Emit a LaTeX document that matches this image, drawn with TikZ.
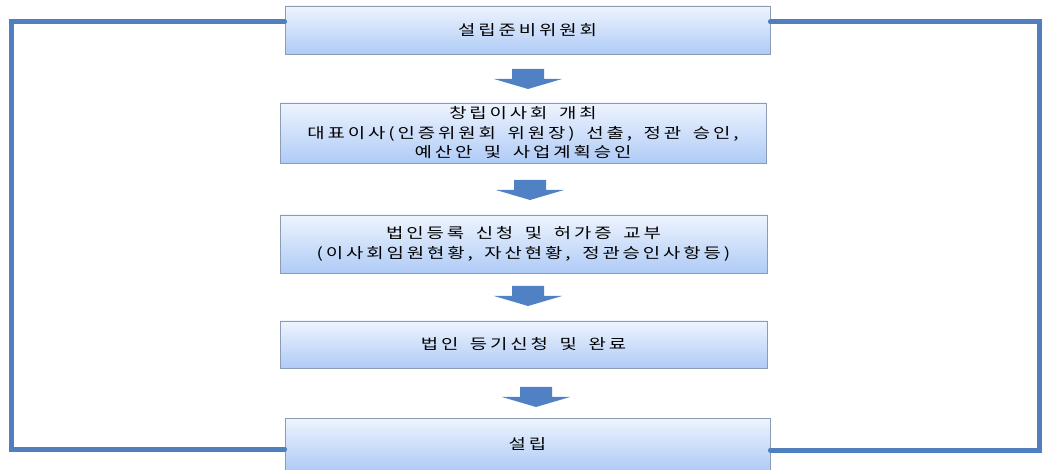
\documentclass[tikz,border=0pt]{standalone}
\usepackage{fontspec}
\newfontfamily\kr[LetterSpace=20,FakeStretch=1.3]{Noto Sans CJK KR}
\newcommand{\krboxfont}{\kr\fontsize{14.5}{19.5}\selectfont\spaceskip=0.8em plus 0pt minus 0pt\relax}
\usetikzlibrary{calc}
\definecolor{boxtop}{HTML}{EEF4FE}
\definecolor{boxbot}{HTML}{AFCBF6}
\definecolor{boxline}{HTML}{8C9CB4}
\definecolor{linkc}{HTML}{4F7FBD}
\definecolor{arrc}{HTML}{4F81C4}
\tikzset{
  stepbox/.style={draw=boxline, line width=0.8pt, top color=boxtop, bottom color=boxbot,
    inner sep=0pt, align=center, font=\krboxfont, text=black},
  link/.style={draw=linkc, line width=5pt},
  blockarrow/.style={fill=arrc, draw=none}
}
\newcommand{\downarrowblock}[1]{%
  \fill[blockarrow] ($(#1)+(-16,-10)$) -- ($(#1)+(16,-10)$) -- ($(#1)+(16,0)$) -- ($(#1)+(34,0)$)
    -- ($(#1)+(0,10)$) -- ($(#1)+(-34,0)$) -- ($(#1)+(-16,0)$) -- cycle;}
\begin{document}
\begin{tikzpicture}[x=1pt,y=-1pt]
\useasboundingbox (0,0) rectangle (1042,470);
\node[stepbox, minimum width=485pt, minimum height=48pt] (b1) at (527.5,30) {설립준비위원회};
\node[stepbox, minimum width=486pt, minimum height=60pt] (b2) at (523,133) {창립이사회 개최\\대표이사(인증위원회 위원장) 선출, 정관 승인,\\예산안 및 사업계획승인};
\node[stepbox, minimum width=487pt, minimum height=58pt] (b3) at (523.5,244) {법인등록 신청 및 허가증 교부\\(이사회임원현황, 자산현황, 정관승인사항등)};
\node[stepbox, minimum width=487pt, minimum height=47pt] (b4) at (523.5,344.5) {법인 등기신청 및 완료};
\node[stepbox, minimum width=485pt, minimum height=52pt] (b5) at (527.5,444) {설립};
% block arrows
\coordinate (a1) at (528,79);
\coordinate (a2) at (530,190);
\coordinate (a3) at (528,296);
\coordinate (a4) at (536,397);
\downarrowblock{a1}
\downarrowblock{a2}
\downarrowblock{a3}
\downarrowblock{a4}
% feedback lines
\coordinate (tl) at (11,22);
\coordinate (bl) at (11,449);
\coordinate (tr) at (1039.5,22);
\coordinate (br) at (1039.5,450);
\draw[link, line cap=round] (b1.west |- tl) -- (tl) -- (bl) -- (b5.west |- bl);
\draw[link, line cap=round] (b1.east |- tr) -- (tr) -- (br) -- (b5.east |- br);
\end{tikzpicture}
\end{document}
